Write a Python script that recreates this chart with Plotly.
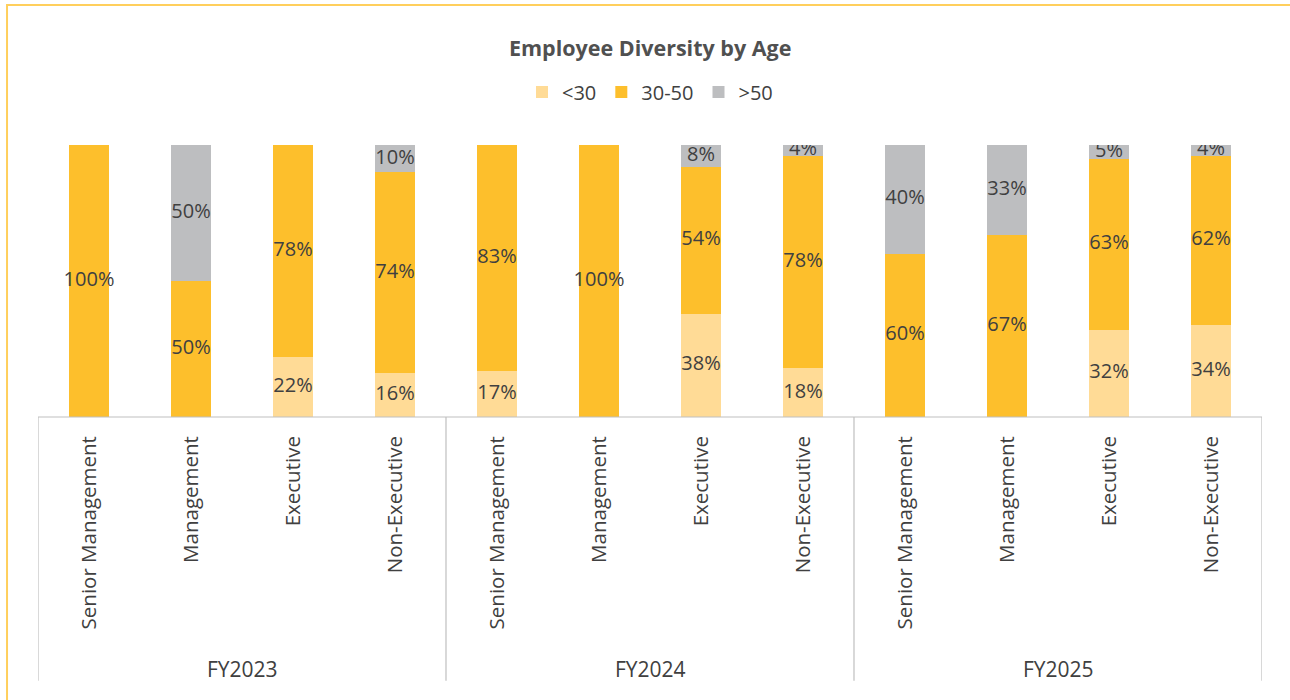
import plotly.graph_objects as go

years = ["FY2023", "FY2024", "FY2025"]
roles = ["Senior Management", "Management", "Executive", "Non-Executive"]

age_groups = ["<30", "30-50", ">50"]
under_30 = [0, 0, 22, 16, 17, 0, 38, 18, 0, 0, 32, 34]
age_30_50 = [100, 50, 78, 74, 83, 100, 54, 78, 60, 67, 63, 62]
over_50 = [0, 50, 0, 10, 0, 0, 8, 4, 40, 33, 5, 4]

colors = ["#FFDB96", "#FDBF2C", "#BDBEC0"]
text_color = "#404040"
font = "Open Sans"

x = list(range(len(years) * len(roles)))
labels = roles * len(years)

fig = go.Figure()
base = [0] * len(x)
for name, vals, col in zip(age_groups, [under_30, age_30_50, over_50], colors):
    fig.add_trace(go.Bar(
        x=x, y=vals, name=name, marker=dict(color=col, line=dict(width=0)),
        width=0.4, hoverinfo="skip",
    ))
    mids = [b + v / 2 for b, v in zip(base, vals)]
    txt = [f"{v}%" if v > 0 else "" for v in vals]
    fig.add_trace(go.Scatter(
        x=x, y=mids, text=txt, mode="text", showlegend=False,
        textfont=dict(size=20, color=text_color, family=font),
        textposition="middle center", hoverinfo="skip",
    ))
    base = [b + v for b, v in zip(base, vals)]

# axis frame: baseline and group dividers
fig.add_shape(type="line", xref="x", yref="paper", x0=-0.5, x1=len(x) - 0.5,
              y0=0, y1=0, line=dict(color="#BFBFBF", width=1.2))
for i in range(len(years) + 1):
    xb = i * len(roles) - 0.5
    fig.add_shape(type="line", xref="x", yref="paper", x0=xb, x1=xb,
                  y0=0, y1=-0.97, line=dict(color="#BFBFBF", width=1.2))
for i, yr in enumerate(years):
    fig.add_annotation(x=i * len(roles) + (len(roles) - 1) / 2, xref="x",
                       y=-0.926, yref="paper", text=yr, showarrow=False,
                       font=dict(size=21, color=text_color, family=font),
                       yanchor="middle")

# outer chart border (cropped on right/bottom)
fig.add_shape(type="rect", xref="paper", yref="paper",
              x0=-0.0253, x1=1.5, y0=-3, y1=1.515,
              line=dict(color="#FFCF5C", width=2), layer="below")

fig.update_layout(
    width=1290, height=700,
    margin=dict(l=38, r=28, t=145, b=283),
    paper_bgcolor="white", plot_bgcolor="white",
    barmode="stack",
    title=dict(text="<b>Employee Diversity by Age</b>", x=0.504, xanchor="center",
               y=0.931, yanchor="middle",
               font=dict(size=21.5, color="#505050", family=font)),
    legend=dict(orientation="h", x=0.5, xanchor="center", y=1.195, yanchor="middle",
                font=dict(size=20, color=text_color, family=font),
                traceorder="normal", itemwidth=30),
    showlegend=True,
    xaxis=dict(tickmode="array", tickvals=x, ticktext=labels, tickangle=-90,
               range=[-0.5, len(x) - 0.5], showgrid=False, zeroline=False,
               showline=False, ticks="", ticklabelstandoff=14,
               tickfont=dict(size=20.5, color=text_color, family=font)),
    yaxis=dict(range=[0, 100], visible=False),
)

fig.write_html("out.html", config={"displayModeBar": False},
               post_script="document.body.style.margin='0';")
